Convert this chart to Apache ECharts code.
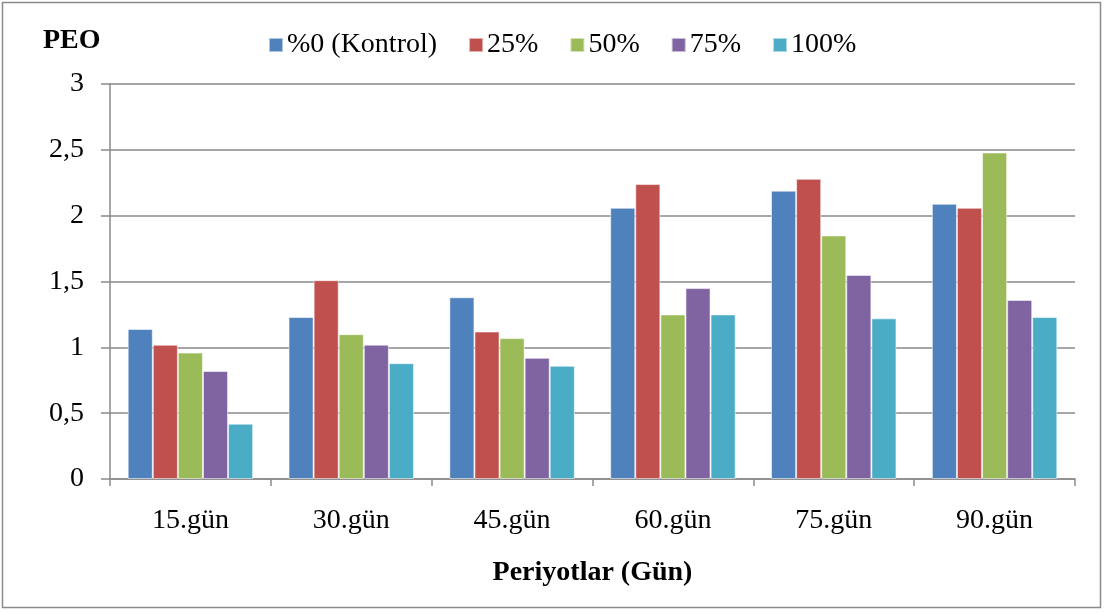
<!DOCTYPE html>
<html>
<head>
<meta charset="utf-8">
<title>PEO</title>
<script src="https://cdn.jsdelivr.net/npm/echarts@6/dist/echarts.min.js"></script>
<style>
  html, body { margin: 0; padding: 0; background: #fff; }
  #chart { width: 1105px; height: 614px; }
</style>
</head>
<body>
<div id="chart"></div>
<script>
// Periods (x-axis categories)
const categories = ['15.gün', '30.gün', '45.gün', '60.gün', '75.gün', '90.gün'];

// Series names and values
const seriesNames = ['%0 (Kontrol)', '25%', '50%', '75%', '100%'];
const kontrol = [1.14, 1.23, 1.38, 2.06, 2.19, 2.09];
const p25     = [1.02, 1.51, 1.12, 2.24, 2.28, 2.06];
const p50     = [0.96, 1.10, 1.07, 1.25, 1.85, 2.48];
const p75     = [0.82, 1.02, 0.92, 1.45, 1.55, 1.36];
const p100    = [0.42, 0.88, 0.86, 1.25, 1.22, 1.23];

const colors = ['#4F81BD', '#C0504D', '#9BBB59', '#8064A2', '#4BACC6'];
const seriesValues = [kontrol, p25, p50, p75, p100];

const font = '"Liberation Serif", "Times New Roman", serif';
const gridColor = '#8a8a8a';
const fontSize = 28;

const chart = echarts.init(document.getElementById('chart'));

chart.setOption({
  animation: false,
  backgroundColor: '#fff',
  textStyle: { fontFamily: font },
  graphic: [{
    type: 'rect',
    shape: { x: 2.5, y: 2.5, width: 1098, height: 605 },
    style: { fill: 'none', stroke: '#8a8a8a', lineWidth: 1.5 },
    silent: true
  }, {
    type: 'text',
    x: 43, y: 41,
    style: {
      text: 'PEO', font: 'bold 28px ' + font, fill: '#000',
      verticalAlign: 'middle', align: 'left'
    }
  }],
  legend: {
    left: 263, top: 26,
    itemWidth: 14, itemHeight: 14,
    itemGap: 31,
    icon: 'rect',
    textStyle: { fontFamily: font, fontSize: fontSize, color: '#000', padding: [0, 0, 0, -1] },
    data: seriesNames
  },
  grid: { left: 110, right: 30, top: 84, bottom: 135, containLabel: false },
  xAxis: {
    type: 'category',
    data: categories,
    name: 'Periyotlar (Gün)',
    nameLocation: 'middle',
    nameGap: 80,
    nameTextStyle: { fontFamily: font, fontSize: fontSize, fontWeight: 'bold', color: '#000' },
    axisLine: { lineStyle: { color: gridColor, width: 1.5 } },
    axisTick: { show: true, length: 7, lineStyle: { color: gridColor, width: 1.5 } },
    axisLabel: { fontFamily: font, fontSize: fontSize, color: '#000', margin: 28 }
  },
  yAxis: {
    type: 'value',
    min: 0, max: 3, interval: 0.5,
    axisLine: { show: true, lineStyle: { color: gridColor, width: 1.5 } },
    axisTick: { show: true, length: 9, lineStyle: { color: gridColor, width: 1.5 } },
    splitLine: { lineStyle: { color: gridColor, width: 1.5 } },
    axisLabel: {
      fontFamily: font, fontSize: fontSize, color: '#000', margin: 26,
      formatter: v => String(v).replace('.', ',')
    }
  },
  series: seriesNames.map((name, i) => ({
    name,
    type: 'bar',
    data: seriesValues[i],
    barGap: '0%',
    barCategoryGap: '22%',
    itemStyle: { color: colors[i], borderColor: 'rgba(255,255,255,0.55)', borderWidth: 1 }
  }))
});
</script>
</body>
</html>
